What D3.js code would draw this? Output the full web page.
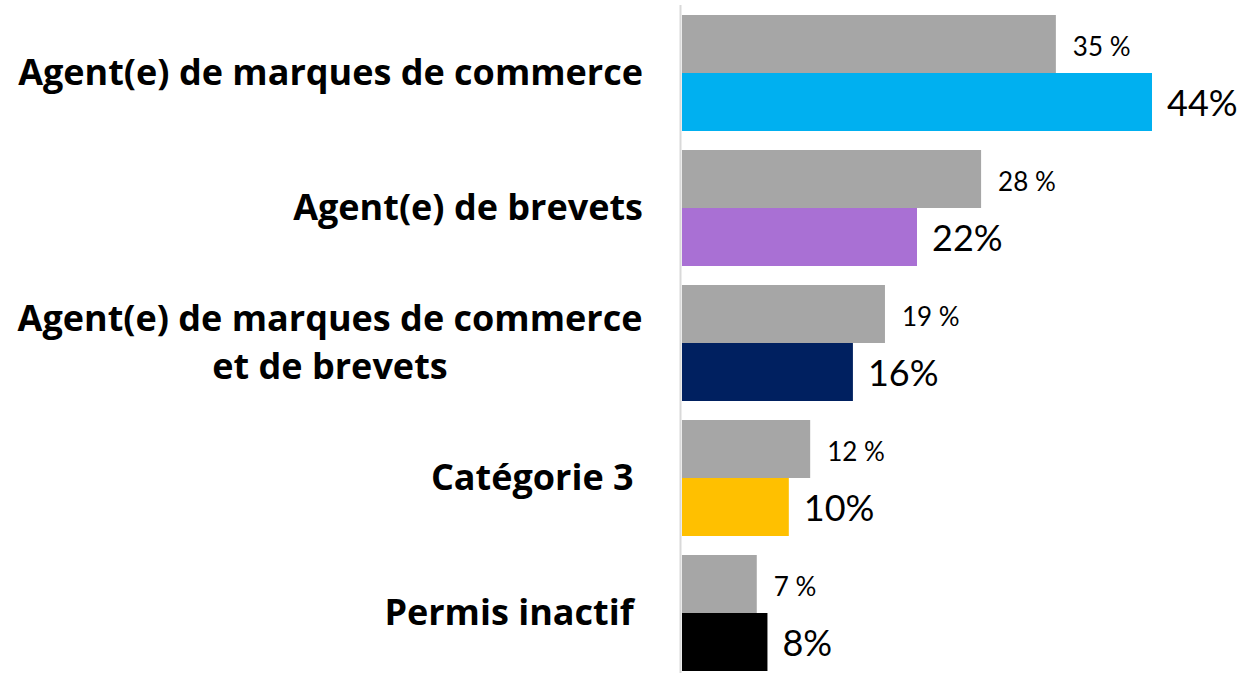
<!DOCTYPE html>
<html>
<head>
<meta charset="utf-8">
<script src="https://cdn.jsdelivr.net/npm/d3@7"></script>
<style>
  body { margin: 0; background: #fff; }
  svg { display: block; }
  .cat { font-family: "Open Sans", Lato, sans-serif; font-weight: 700; fill: #000; }
  .val { font-family: Lato, "Open Sans", sans-serif; fill: #000; }
</style>
</head>
<body>
<svg id="chart" width="1245" height="673"></svg>
<script>
// categories (label lines) and the two series
const categories = [
  ["Agent(e) de marques de commerce"],
  ["Agent(e) de brevets"],
  ["Agent(e) de marques de commerce", "et de brevets"],
  ["Catégorie 3\u00a0"],
  ["Permis inactif\u00a0"]
];
const previousValues = [35, 28, 19, 12, 7];
const currentValues = [44, 22, 16, 10, 8];
const barColors = ["#00b0f0", "#a970d4", "#002060", "#ffc000", "#000000"];
const greyColor = "#a6a6a6";

const svg = d3.select("#chart");
const width = 1245, height = 673;
const margin = { top: 15, left: 682 };

// 135px per category, 19px gap between groups
const y = d3.scaleBand()
  .domain(d3.range(categories.length))
  .range([margin.top, margin.top + 135 * categories.length - 19])
  .paddingInner(19 / 135)
  .paddingOuter(0);

const x = d3.scaleLinear()
  .domain([0, 44])
  .range([margin.left, 1152]);

const half = y.bandwidth() / 2;

const g = svg.append("g");

// grey bars (previous)
g.selectAll("rect.prev")
  .data(previousValues)
  .enter().append("rect")
  .attr("class", "prev")
  .attr("x", x(0))
  .attr("y", (d, i) => y(i))
  .attr("width", d => x(d) - x(0))
  .attr("height", half)
  .attr("fill", greyColor);

// coloured bars (current)
g.selectAll("rect.cur")
  .data(currentValues)
  .enter().append("rect")
  .attr("class", "cur")
  .attr("x", x(0))
  .attr("y", (d, i) => y(i) + half)
  .attr("width", d => x(d) - x(0))
  .attr("height", half)
  .attr("fill", (d, i) => barColors[i]);

// value labels
g.selectAll("text.prevLbl")
  .data(previousValues)
  .enter().append("text")
  .attr("class", "val")
  .attr("x", d => x(d) + 17)
  .attr("y", (d, i) => y(i) + 41)
  .attr("font-size", 26)
  .text(d => d + " %");

g.selectAll("text.curLbl")
  .data(currentValues)
  .enter().append("text")
  .attr("class", "val")
  .attr("x", d => x(d) + 15)
  .attr("y", (d, i) => y(i) + half + 43)
  .attr("font-size", 36)
  .text(d => d + "%");

// axis line
svg.append("line")
  .attr("x1", 680.5).attr("x2", 680.5)
  .attr("y1", 5).attr("y2", height)
  .attr("stroke", "#d9d9d9")
  .attr("stroke-width", 2);

// category labels
const labels = svg.selectAll("text.cat")
  .data(categories)
  .enter().append("text")
  .attr("class", "cat")
  .attr("font-size", 36)
  .attr("text-anchor", d => d.length > 1 ? "middle" : "end")
  .attr("transform", (d, i) => `translate(0,${y(i) + y.bandwidth() / 2 - 1})`);

labels.each(function(d) {
  const t = d3.select(this);
  const lineH = 48;
  const start = -(d.length - 1) * lineH / 2;
  d.forEach((line, k) => {
    t.append("tspan")
      .attr("x", d.length > 1 ? 330 : 643)
      .attr("y", start + k * lineH)
      .attr("dy", "0.36em")
      .text(line);
  });
});
</script>
</body>
</html>
